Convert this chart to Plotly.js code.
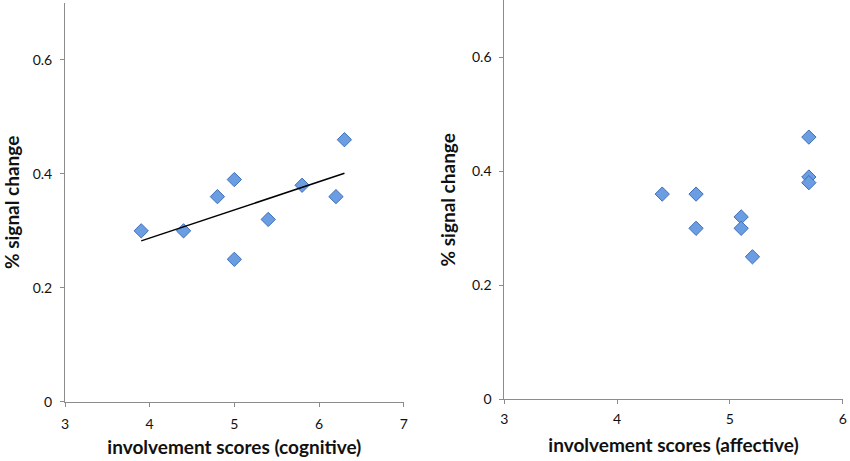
<!DOCTYPE html>
<html>
<head>
<meta charset="utf-8">
<script src="https://cdn.plot.ly/plotly-3.0.1.min.js"></script>
<style>html,body{margin:0;padding:0;background:#fff;}#chart{width:850px;height:461px;}</style>
</head>
<body>
<div id="chart"></div>
<script>
// Left panel: cognitive involvement
const cognitiveScores = [3.9, 4.4, 4.8, 5.0, 5.0, 5.4, 5.8, 6.2, 6.3];
const cognitiveSignal = [0.30, 0.30, 0.36, 0.39, 0.25, 0.32, 0.38, 0.36, 0.46];
// Right panel: affective involvement
const affectiveScores = [4.4, 4.7, 4.7, 5.1, 5.1, 5.2, 5.7, 5.7, 5.7];
const affectiveSignal = [0.36, 0.36, 0.30, 0.32, 0.30, 0.25, 0.46, 0.39, 0.38];
// Tick labels
const cognitiveTicks = [3, 4, 5, 6, 7];
const affectiveTicks = [3, 4, 5, 6];
const signalTicks = [0, 0.2, 0.4, 0.6];
const signalTickText = ['0', '0.2', '0.4', '0.6'];

// Least-squares trend line for the cognitive panel
function fit(xs, ys) {
  const n = xs.length;
  const mx = xs.reduce((a, b) => a + b, 0) / n;
  const my = ys.reduce((a, b) => a + b, 0) / n;
  let sxy = 0, sxx = 0;
  for (let i = 0; i < n; i++) { sxy += (xs[i] - mx) * (ys[i] - my); sxx += (xs[i] - mx) ** 2; }
  const b = sxy / sxx, a = my - b * mx;
  const x0 = Math.min(...xs), x1 = Math.max(...xs);
  return { x: [x0, x1], y: [a + b * x0, a + b * x1] };
}
const trend = fit(cognitiveScores, cognitiveSignal);

const markerStyle = {
  symbol: 'diamond', size: 11, color: '#6b9de2',
  line: { color: '#3f6fb6', width: 1 }
};

const data = [
  { x: cognitiveScores, y: cognitiveSignal, type: 'scatter', mode: 'markers', marker: markerStyle, xaxis: 'x', yaxis: 'y', hoverinfo: 'x+y' },
  { x: trend.x, y: trend.y, type: 'scatter', mode: 'lines', line: { color: '#000', width: 1.5 }, xaxis: 'x', yaxis: 'y', hoverinfo: 'skip' },
  { x: affectiveScores, y: affectiveSignal, type: 'scatter', mode: 'markers', marker: markerStyle, xaxis: 'x2', yaxis: 'y2', hoverinfo: 'x+y' }
];

const axisCommon = {
  showgrid: false, zeroline: false, showline: true, linecolor: '#8c8c8c', linewidth: 1,
  ticks: 'outside', ticklen: 4, tickcolor: '#8c8c8c', tickwidth: 1,
  tickfont: { family: 'Lato, sans-serif', size: 14, color: '#111' },
  fixedrange: true
};
const titleFont = { family: 'Lato, sans-serif', size: 19, color: '#111', weight: 'bold' };

const layout = {
  width: 850, height: 461,
  margin: { l: 0, r: 0, t: 0, b: 0 },
  paper_bgcolor: '#fff', plot_bgcolor: '#fff',
  showlegend: false,
  xaxis: Object.assign({}, axisCommon, {
    domain: [65 / 850, 403.7 / 850], range: [3, 7], tickvals: cognitiveTicks, anchor: 'y',
    ticklabelstandoff: 5,
    title: { text: 'involvement scores (cognitive)', font: titleFont, standoff: 10 }
  }),
  yaxis: Object.assign({}, axisCommon, {
    domain: [1 - 401.7 / 461, 1 - 3 / 461], range: [0, 0.7], tickvals: signalTicks, ticktext: signalTickText, anchor: 'x',
    ticklabelstandoff: 5,
    title: { text: '% signal change', font: titleFont, standoff: 9 }
  }),
  xaxis2: Object.assign({}, axisCommon, {
    domain: [504.3 / 850, 842.7 / 850], range: [3, 6], tickvals: affectiveTicks, anchor: 'y2',
    ticklabelstandoff: 3,
    title: { text: 'involvement scores (affective)', font: titleFont, standoff: 12 }
  }),
  yaxis2: Object.assign({}, axisCommon, {
    domain: [1 - 399.3 / 461, 1 - 0.3 / 461], range: [0, 0.7], tickvals: signalTicks, ticktext: signalTickText, anchor: 'x2',
    ticklabelstandoff: 5,
    title: { text: '% signal change', font: titleFont, standoff: 11 }
  })
};

Plotly.newPlot('chart', data, layout, { displayModeBar: false });
</script>
</body>
</html>
